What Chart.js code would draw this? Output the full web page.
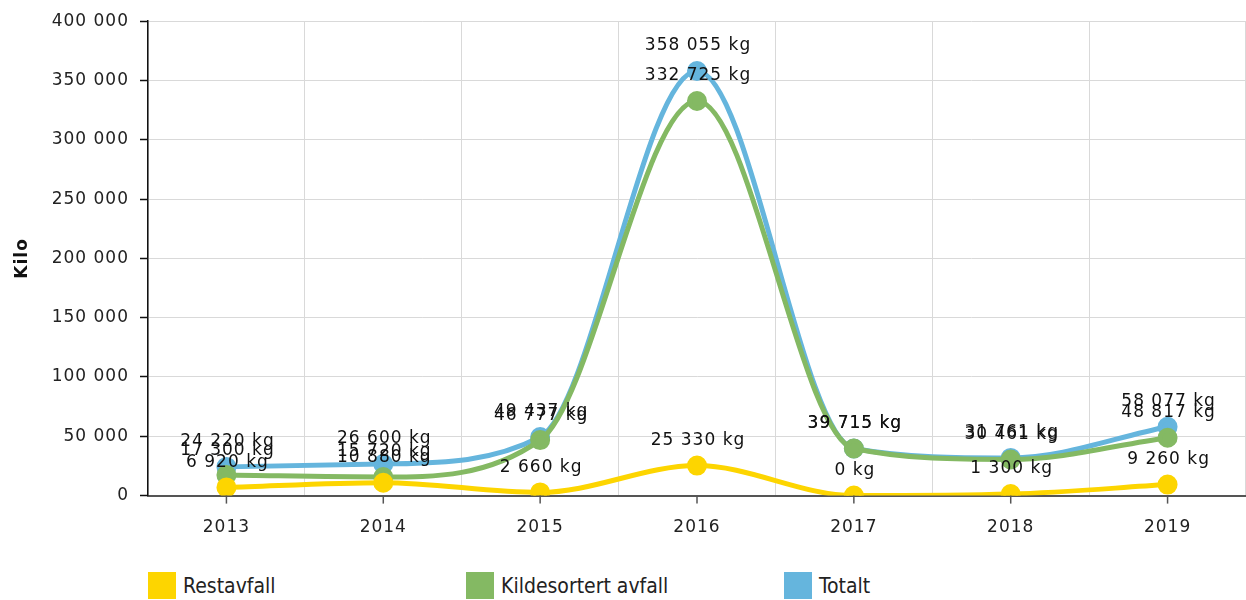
<!DOCTYPE html>
<html>
<head>
<meta charset="utf-8">
<script src="https://cdn.jsdelivr.net/npm/chart.js@4.4.1/dist/chart.umd.min.js"></script>
<style>
  body { margin: 0; background: #fff; font-family: "DejaVu Sans", Verdana, sans-serif; overflow: hidden; }
  #wrap { position: relative; width: 1246px; height: 560px; }
  #legend { display: flex; margin-left: 148px; margin-top: 12px; }
  .item { display: flex; align-items: center; width: 318px; font-family: "DejaVu Sans Condensed", "DejaVu Sans", sans-serif; font-size: 21px; color: #222; }
  .box { width: 28px; height: 27px; margin-right: 7px; }
</style>
</head>
<body>
<div id="wrap"><canvas id="myChart"></canvas></div>
<div id="legend"></div>
<script>
const years = ['2013', '2014', '2015', '2016', '2017', '2018', '2019'];
const restavfall = [6920, 10880, 2660, 25330, 0, 1300, 9260];
const kildesortert = [17300, 15720, 46777, 332725, 39715, 30461, 48817];
const totalt = [24220, 26600, 49437, 358055, 39715, 31761, 58077];
const seriesNames = ['Restavfall', 'Kildesortert avfall', 'Totalt'];
const seriesColors = ['#FDD500', '#84B963', '#65B5DD'];

const FONT = '"DejaVu Sans", Verdana, sans-serif';
const SPACING = '1px'; // the original text is a bit wider than DejaVu

function fmt(v) {
    return String(v).replace(/\B(?=(\d{3})+(?!\d))/g, ' ');
}

// wider letter spacing for all canvas text (canvas state is reset on resize, so set it again each time)
const spacing = {
    id: 'spacing',
    beforeUpdate(chart) { chart.ctx.letterSpacing = SPACING; },
    beforeDraw(chart) { chart.ctx.letterSpacing = SPACING; }
};

// value labels above each point
const valueLabels = {
    id: 'valueLabels',
    afterDatasetsDraw(chart) {
        const ctx = chart.ctx;
        ctx.save();
        ctx.font = '17px ' + FONT;
        ctx.letterSpacing = SPACING;
        ctx.fillStyle = '#111';
        ctx.textAlign = 'center';
        ctx.textBaseline = 'middle';
        chart.data.datasets.forEach((ds, i) => {
            chart.getDatasetMeta(i).data.forEach((pt, j) => {
                ctx.fillText(fmt(ds.data[j]) + ' kg', pt.x + 1, pt.y - 25);
            });
        });
        ctx.restore();
    }
};

// tick marks under the x axis at the category centres
const xTicks = {
    id: 'xTicks',
    afterDraw(chart) {
        const ctx = chart.ctx, x = chart.scales.x, bottom = chart.chartArea.bottom;
        ctx.save();
        ctx.strokeStyle = '#555';
        ctx.lineWidth = 1.5;
        years.forEach((y, i) => {
            const px = x.getPixelForValue(i);
            ctx.beginPath();
            ctx.moveTo(px, bottom);
            ctx.lineTo(px, bottom + 8);
            ctx.stroke();
        });
        ctx.restore();
    }
};

const canvas = document.getElementById('myChart');
canvas.width = 1246;
canvas.height = 560;

const datasets = [restavfall, kildesortert, totalt].map((data, i) => ({
    label: seriesNames[i],
    data: data,
    borderColor: seriesColors[i],
    backgroundColor: seriesColors[i],
    borderWidth: 5,
    pointRadius: 7.5,
    pointHoverRadius: 7.5,
    cubicInterpolationMode: 'monotone',
    fill: false
}));

new Chart(canvas.getContext('2d'), {
    type: 'line',
    data: { labels: years, datasets: datasets },
    plugins: [spacing, valueLabels, xTicks],
    options: {
        responsive: false,
        animation: false,
        layout: { autoPadding: false, padding: { top: 7, right: 0, left: 0, bottom: 0 } },
        plugins: {
            legend: { display: false },
            tooltip: { enabled: false }
        },
        scales: {
            x: {
                offset: true,
                afterFit(scale) { scale.paddingLeft = 0; scale.paddingRight = 0; },
                grid: { offset: true, color: '#d9d9d9', drawTicks: false },
                border: { color: '#555', width: 2 },
                ticks: {
                    padding: 22,
                    color: '#222',
                    font: { family: FONT, size: 17 }
                }
            },
            y: {
                min: 0,
                max: 400000,
                afterFit(scale) { scale.width = 148; },
                grid: { color: '#d9d9d9', tickColor: '#111', tickLength: 8, tickWidth: 1.5 },
                border: { color: '#111', width: 1.5 },
                ticks: {
                    stepSize: 50000,
                    padding: 11,
                    color: '#222',
                    font: { family: FONT, size: 17 },
                    callback: v => fmt(v)
                },
                title: {
                    display: true,
                    text: 'Kilo',
                    color: '#111',
                    padding: { top: 12, bottom: 0 },
                    font: { family: FONT, size: 17, weight: 'bold' }
                }
            }
        }
    }
});

const legend = document.getElementById('legend');
seriesNames.forEach((name, i) => {
    legend.innerHTML += `<div class="item"><span class="box" style="background:${seriesColors[i]}"></span>${name}</div>`;
});
</script>
</body>
</html>
